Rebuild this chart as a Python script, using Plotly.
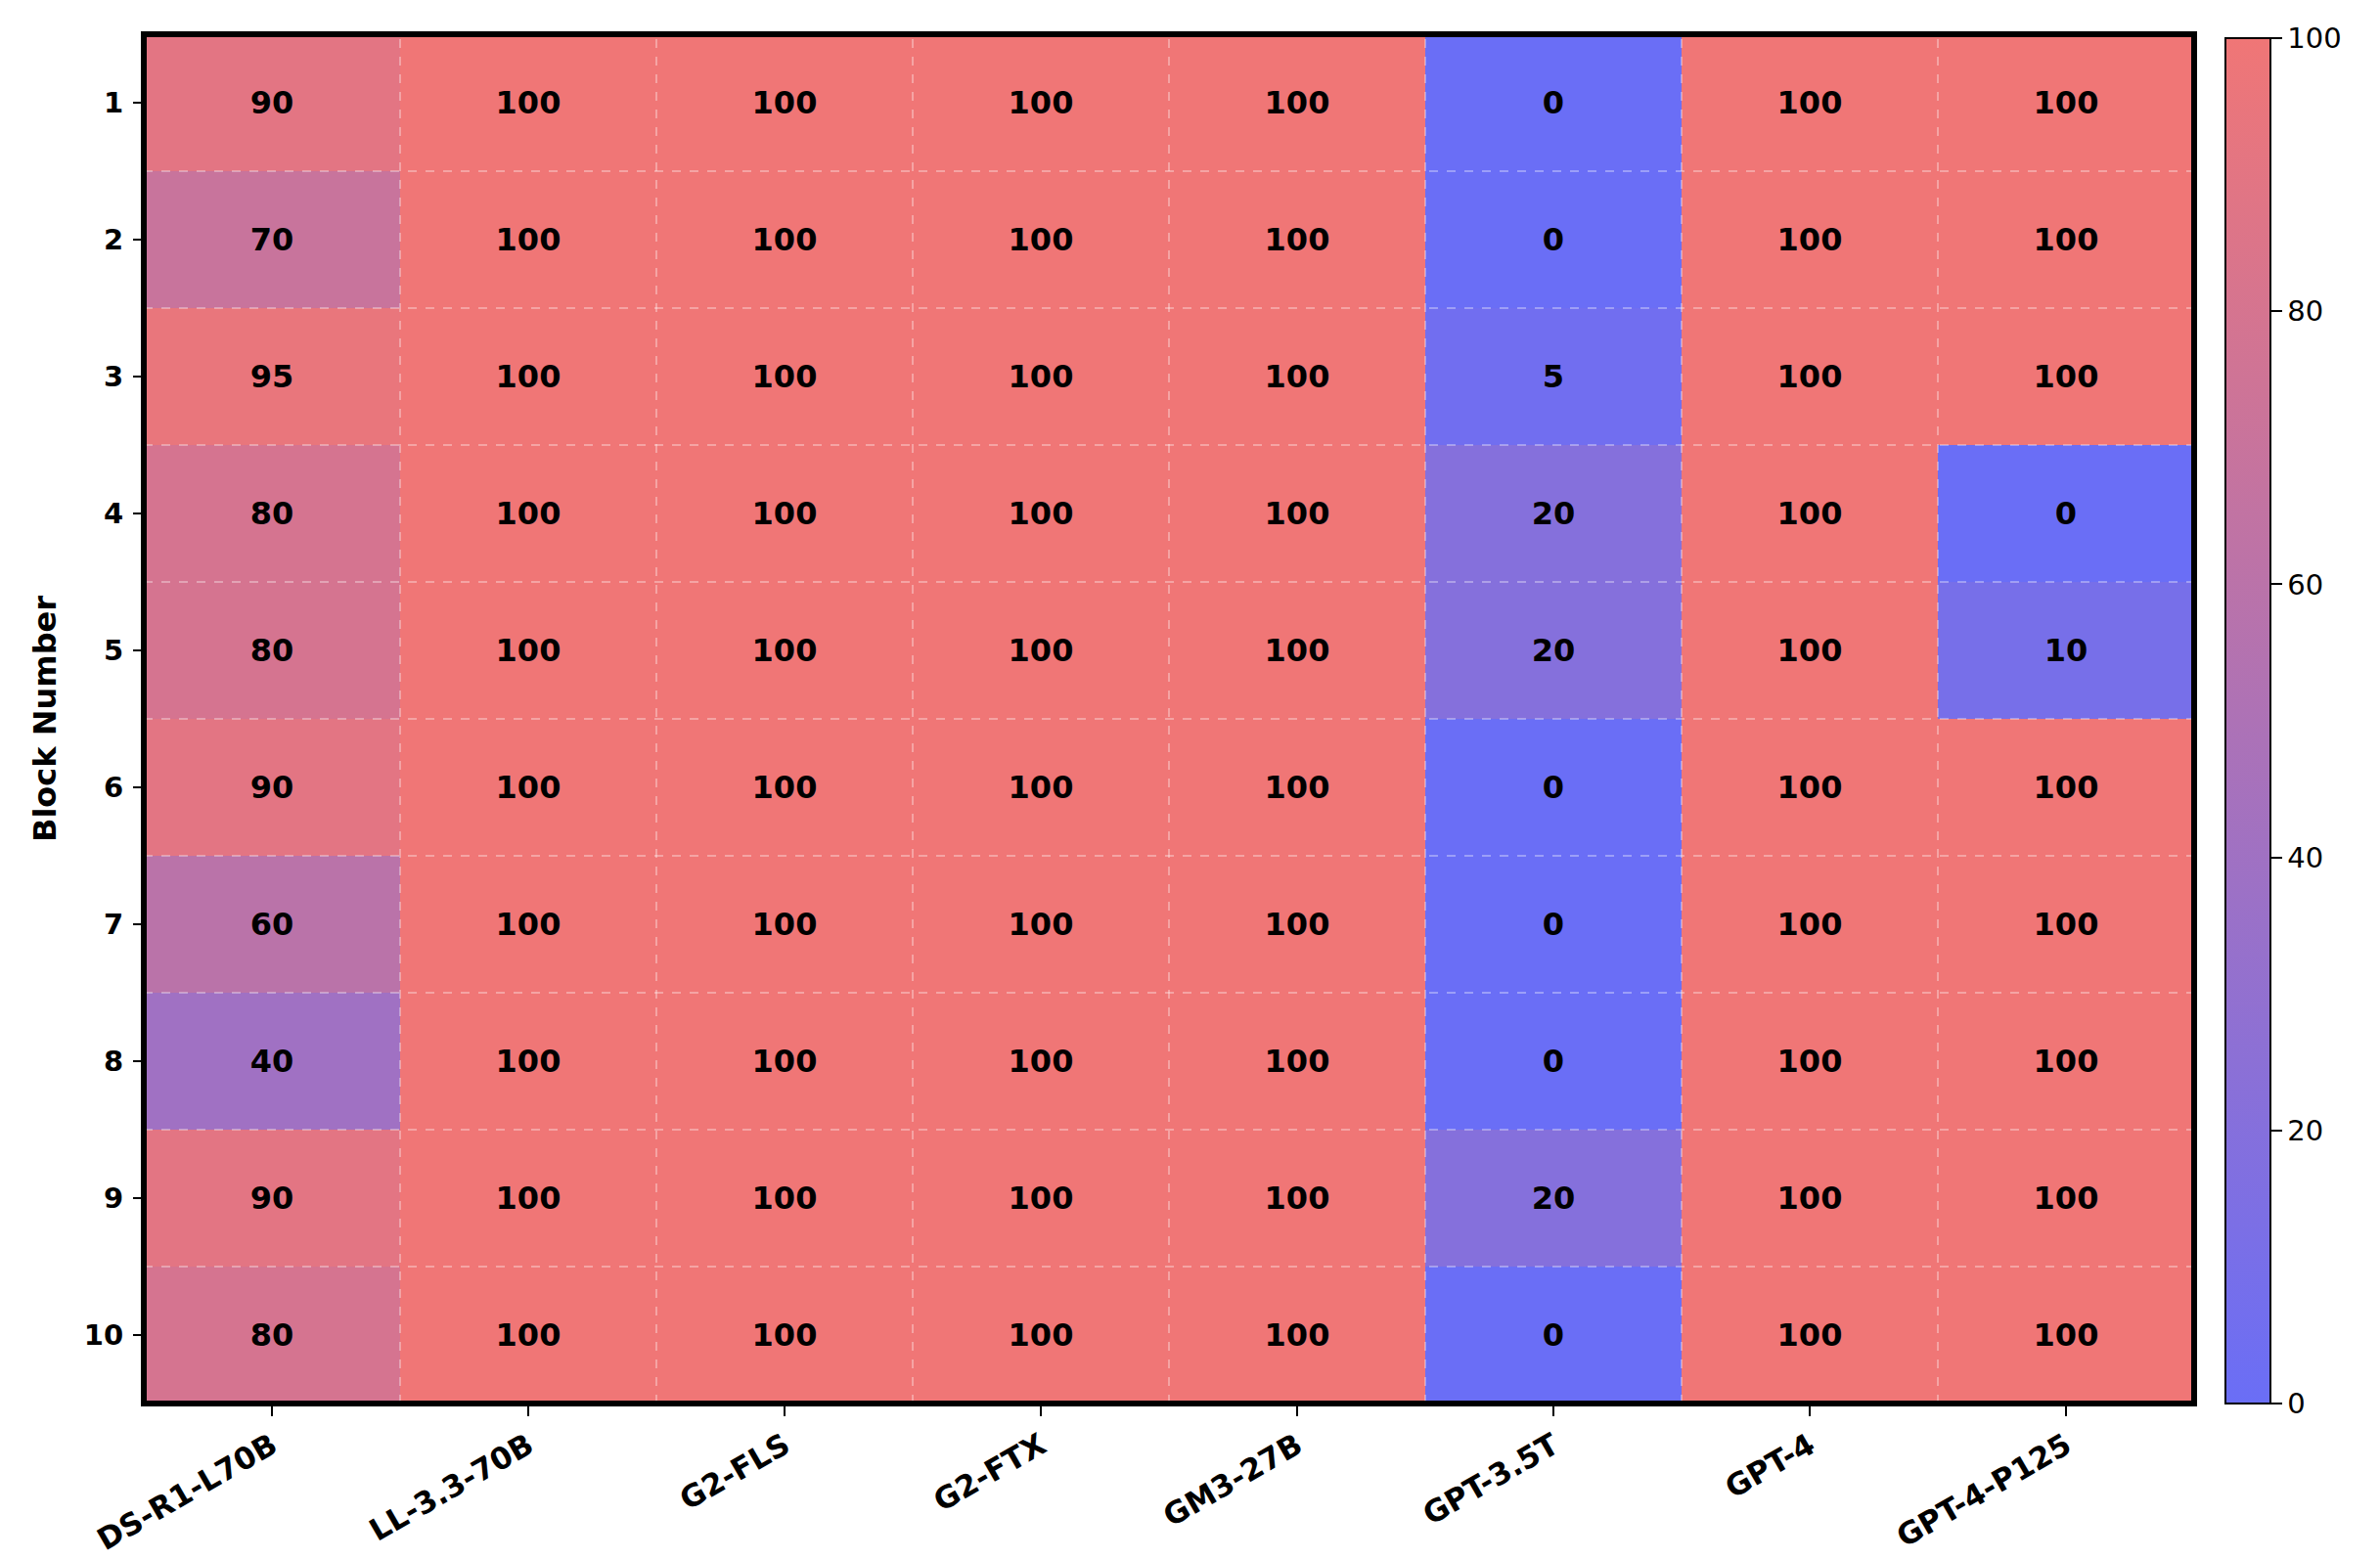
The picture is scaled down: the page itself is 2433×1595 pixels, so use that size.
import plotly.graph_objects as go

models = ["DS-R1-L70B", "LL-3.3-70B", "G2-FLS", "G2-FTX", "GM3-27B", "GPT-3.5T", "GPT-4", "GPT-4-P125"]
blocks = ["1", "2", "3", "4", "5", "6", "7", "8", "9", "10"]

ds_r1_l70b = [90, 70, 95, 80, 80, 90, 60, 40, 90, 80]
ll_33_70b = [100, 100, 100, 100, 100, 100, 100, 100, 100, 100]
g2_fls = [100, 100, 100, 100, 100, 100, 100, 100, 100, 100]
g2_ftx = [100, 100, 100, 100, 100, 100, 100, 100, 100, 100]
gm3_27b = [100, 100, 100, 100, 100, 100, 100, 100, 100, 100]
gpt_35t = [0, 0, 5, 20, 20, 0, 0, 0, 20, 0]
gpt_4 = [100, 100, 100, 100, 100, 100, 100, 100, 100, 100]
gpt_4_p125 = [100, 100, 100, 0, 10, 100, 100, 100, 100, 100]

columns = [ds_r1_l70b, ll_33_70b, g2_fls, g2_ftx, gm3_27b, gpt_35t, gpt_4, gpt_4_p125]
z = [[col[i] for col in columns] for i in range(len(blocks))]

colorbar_ticks = [0, 20, 40, 60, 80, 100]

FONT = "DejaVu Sans"

fig = go.Figure()
fig.add_trace(go.Heatmap(
    z=z,
    x=models,
    y=blocks,
    zmin=0, zmax=100,
    colorscale=[[0, "rgb(106,110,246)"], [1, "rgb(240,118,118)"]],
    texttemplate="<b>%{z}</b>",
    textfont=dict(family=FONT, size=32, color="black"),
    xgap=0, ygap=0,
    colorbar=dict(
        x=1.0153, xanchor="left", xpad=0,
        y=0.0, yanchor="bottom", ypad=0,
        len=0.997, lenmode="fraction",
        thickness=46, thicknessmode="pixels",
        outlinewidth=2, outlinecolor="black",
        tickvals=colorbar_ticks,
        ticks="outside", ticklen=11, tickwidth=2, tickcolor="black",
        tickfont=dict(family=FONT, size=29, color="black"),
    ),
    hoverongaps=False,
))

# dashed grid lines at cell boundaries
shapes = []
for i in range(1, len(models)):
    shapes.append(dict(type="line", xref="x", yref="paper", x0=i - 0.5, x1=i - 0.5, y0=0, y1=1,
                       line=dict(color="rgba(255,255,255,0.45)", width=1.5, dash="dash"), layer="above"))
for j in range(1, len(blocks)):
    shapes.append(dict(type="line", xref="paper", yref="y", x0=0, x1=1, y0=j - 0.5, y1=j - 0.5,
                       line=dict(color="rgba(255,255,255,0.45)", width=1.5, dash="dash"), layer="above"))
# thick frame
shapes.append(dict(type="rect", xref="paper", yref="paper", x0=0, x1=1, y0=0, y1=1,
                   line=dict(color="black", width=6), layer="above"))

fig.update_layout(
    width=2425, height=1587,
    margin=dict(l=139, r=190, t=27, b=160, autoexpand=False),
    paper_bgcolor="white", plot_bgcolor="white",
    font=dict(family=FONT, color="black"),
    shapes=shapes,
    xaxis=dict(
        type="category", showgrid=False, zeroline=False, automargin=False,
        ticks="outside", ticklen=12, tickwidth=2, tickcolor="black",
        tickangle=-30,
        tickfont=dict(family=FONT, size=31, color="black", weight="bold"),
        ticklabelstandoff=0,
        range=[-0.5, len(models) - 0.5],
    ),
    yaxis=dict(
        type="category", showgrid=False, zeroline=False, automargin=False,
        autorange=False, range=[len(blocks) - 0.5, -0.5],
        ticks="outside", ticklen=10, tickwidth=2, tickcolor="black",
        tickfont=dict(family=FONT, size=29, color="black", weight="bold"),
        ticklabelstandoff=4,
        title=dict(text="Block Number", font=dict(family=FONT, size=32, color="black", weight="bold"), standoff=18),
    ),
)

fig.write_html("out.html")
